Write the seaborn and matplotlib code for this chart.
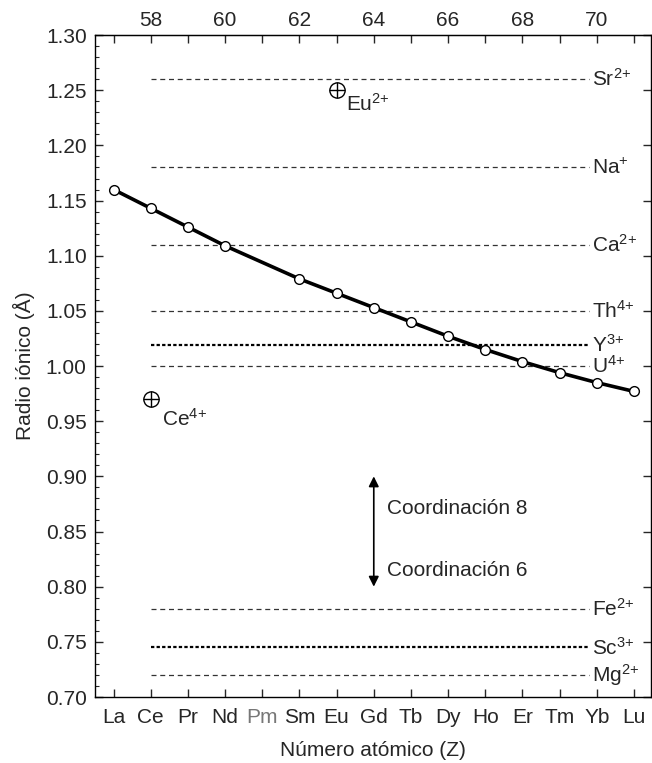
import numpy as np
import pandas as pd
import matplotlib
matplotlib.use("Agg")
import matplotlib.pyplot as plt
import seaborn as sns

# Radios iónicos de las tierras raras (coordinación 8)
simbolos = ['La', 'Ce', 'Pr', 'Nd', 'Pm', 'Sm', 'Eu', 'Gd', 'Tb', 'Dy', 'Ho', 'Er', 'Tm', 'Yb', 'Lu']
z_numeros = list(range(57, 72))
elementos_z = [57, 58, 59, 60, 62, 63, 64, 65, 66, 67, 68, 69, 70, 71]
radios = [1.160, 1.143, 1.126, 1.109, 1.079, 1.066, 1.053, 1.040, 1.027, 1.015, 1.004, 0.994, 0.985, 0.977]

# Iones de referencia (líneas horizontales)
ref_iones = ['Sr$^{2{+}}$', 'Na$^{{+}}$', 'Ca$^{2{+}}$', 'Th$^{4{+}}$', 'Y$^{3{+}}$',
             'U$^{4{+}}$', 'Fe$^{2{+}}$', 'Sc$^{3{+}}$', 'Mg$^{2{+}}$']
ref_radios = [1.26, 1.18, 1.11, 1.05, 1.019, 1.00, 0.78, 0.745, 0.72]
ref_gruesa = [False, False, False, False, True, False, False, True, False]

# Puntos especiales
esp_etiquetas = ['Eu$^{2{+}}$', 'Ce$^{4{+}}$']
esp_z = [63, 58]
esp_radios = [1.25, 0.97]

sns.set_style("ticks")
plt.rcParams['font.family'] = ['Liberation Sans', 'DejaVu Sans']
plt.rcParams['mathtext.fontset'] = 'custom'
plt.rcParams['mathtext.rm'] = 'Liberation Sans'
plt.rcParams['mathtext.it'] = 'Liberation Sans'
plt.rcParams['mathtext.default'] = 'regular'
fs = 15
plt.rcParams['font.size'] = fs

fig = plt.figure(figsize=(6.52, 7.63), dpi=100)
ax = fig.add_axes([0.1457, 0.0865, 0.8523, 0.8675])

x0, x1 = 58, 69.8
for r, lab, grueso in zip(ref_radios, ref_iones, ref_gruesa):
    if grueso:
        ax.plot([x0, x1], [r, r], color='black', lw=1.6, ls=(0, (1.5, 1.0)))
    else:
        ax.plot([x0, x1], [r, r], color='#333333', lw=0.9, ls=(0, (4, 3)))
    ax.text(x1 + 0.08, r, lab, ha='left', va='center', fontsize=fs)

df = pd.DataFrame({'Z': elementos_z, 'radio': radios})
sns.lineplot(data=df, x='Z', y='radio', ax=ax, color='black', lw=2.6,
             marker='o', markersize=7, markerfacecolor='white',
             markeredgecolor='black', markeredgewidth=1.0, zorder=5)

for lab, z, r in zip(esp_etiquetas, esp_z, esp_radios):
    ax.plot(z, r, marker='o', ms=11, mfc='none', mec='black', mew=1.0, ls='none')
    ax.plot(z, r, marker='+', ms=11, mec='black', mew=1.0, ls='none')
ax.text(63.25, 1.238, esp_etiquetas[0], ha='left', va='center', fontsize=fs)
ax.text(58.3, 0.952, esp_etiquetas[1], ha='left', va='center', fontsize=fs)

ax.annotate('', xy=(64, 0.800), xytext=(64, 0.900),
            arrowprops=dict(arrowstyle='<|-|>', color='black', lw=1.2,
                            mutation_scale=15, shrinkA=0, shrinkB=0))
ax.text(64.35, 0.871, 'Coordinación 8', ha='left', va='center', fontsize=fs)
ax.text(64.35, 0.815, 'Coordinación 6', ha='left', va='center', fontsize=fs)

ax.set_xlim(56.5, 71.45)
ax.set_ylim(0.70, 1.30)
ax.set_xticks(z_numeros)
ax.set_xticklabels(simbolos)
for t, s in zip(ax.get_xticklabels(), simbolos):
    if s == 'Pm':
        t.set_color('#777777')
ax.set_yticks(np.arange(0.70, 1.301, 0.05))
ax.set_yticklabels([f'{v:.2f}' for v in np.arange(0.70, 1.301, 0.05)])
ax.set_yticks(np.arange(0.70, 1.301, 0.01), minor=True)
ax.tick_params(axis='both', which='major', direction='in', length=6, width=1,
               labelsize=fs, right=True)
ax.tick_params(axis='y', which='minor', direction='in', length=3, width=0.8, right=False)
ax.tick_params(axis='x', which='major', pad=8)
ax.tick_params(axis='y', which='major', pad=6)
ax.set_xlabel('Número atómico (Z)', fontsize=fs, labelpad=10)
ax.set_ylabel('Radio iónico (Å)', fontsize=fs, labelpad=8)

top = ax.secondary_xaxis('top')
top.set_xticks(z_numeros)
top.set_xticklabels([str(z) if z % 2 == 0 else '' for z in z_numeros])
top.tick_params(direction='in', length=6, width=1, labelsize=fs, pad=4)

for sp in ax.spines.values():
    sp.set_linewidth(1.0)
    sp.set_color('black')

fig.savefig('out.png', dpi=100)
